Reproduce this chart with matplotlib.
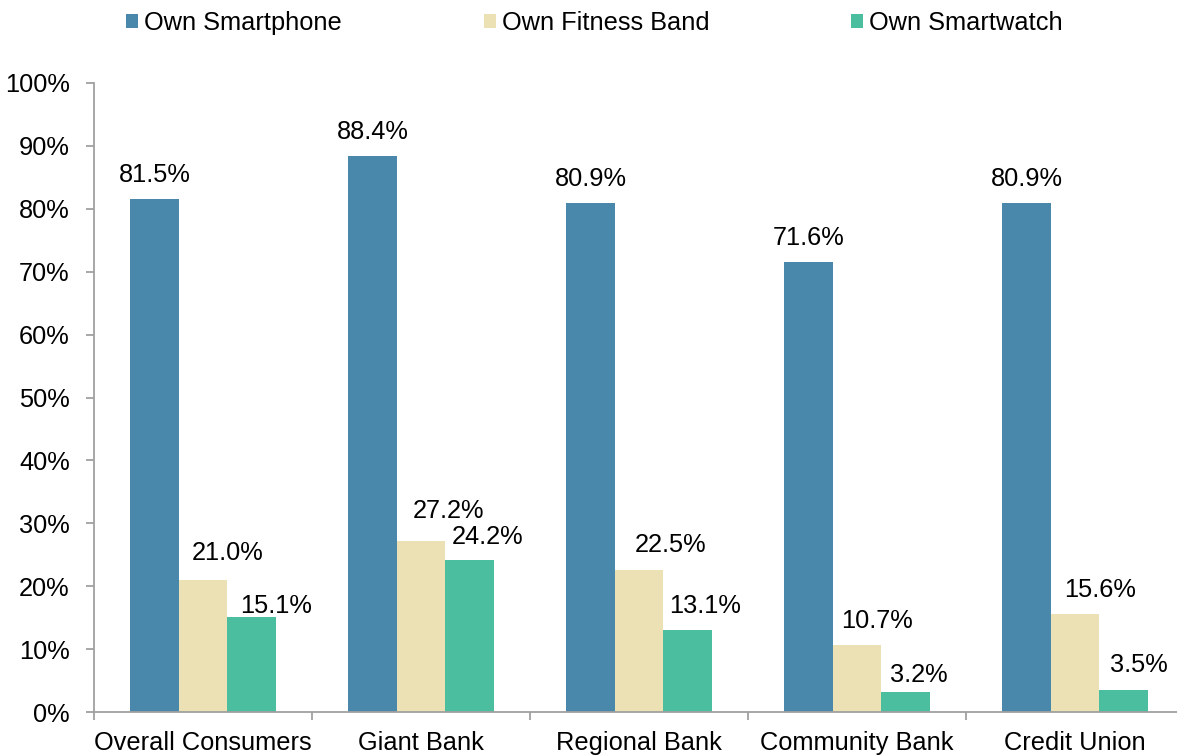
import matplotlib
matplotlib.use("Agg")
import matplotlib.pyplot as plt
import numpy as np

# Device ownership by primary financial institution type
categories = ["Overall Consumers", "Giant Bank", "Regional Bank", "Community Bank", "Credit Union"]
series_names = ["Own Smartphone", "Own Fitness Band", "Own Smartwatch"]
smartphone = [81.5, 88.4, 80.9, 71.6, 80.9]
fitness_band = [21.0, 27.2, 22.5, 10.7, 15.6]
smartwatch = [15.1, 24.2, 13.1, 3.2, 3.5]

colors = ["#4a88ab", "#ebe1b4", "#4cbea0"]

# label nudges in pixels (dx, dy above bar top)
label_dx = [[0, 0, 0, 0, 0],
            [25, 27, 32, 20, 25],
            [25, 18, 18, 13, 15]]
label_dy = [[17, 17, 17, 17, 17],
            [20, 23, 18, 17, 17],
            [4, 16, 17, 10, 18]]

plt.rcParams['font.family'] = ['Liberation Sans', 'DejaVu Sans']
FS = 18.3

fig = plt.figure(figsize=(11.77, 7.55), dpi=100)
ax = fig.add_axes([94 / 1177, 43 / 755, 1090 / 1177, 629 / 755])

x = np.arange(len(categories))
width = 0.222
handles = []
for i, vals in enumerate([smartphone, fitness_band, smartwatch]):
    pos = x + (i - 1) * width
    bars = ax.bar(pos, np.array(vals) / 100, width, color=colors[i],
                  label=series_names[i], zorder=2)
    handles.append(bars)
    for j, (p, v) in enumerate(zip(pos, vals)):
        ax.annotate(f"{v:.1f}%", (p, v / 100),
                    xytext=(label_dx[i][j], label_dy[i][j]),
                    textcoords="offset pixels", ha="center", va="baseline",
                    fontsize=FS, color="black")

ax.set_xlim(-0.5, len(categories) - 0.5)
ax.set_ylim(0, 1)
ax.set_yticks(np.arange(0, 1.01, 0.1))
ax.set_yticklabels([f"{int(round(t * 100))}%" for t in np.arange(0, 1.01, 0.1)])

ax.set_xticks(np.arange(-0.5, len(categories)), minor=False)
ax.set_xticklabels([])
ax.set_xticks(x, minor=True)
ax.set_xticklabels(categories, minor=True)
ax.tick_params(axis="x", which="major", length=6, width=1.3, color="#a0a0a0", direction="out")
ax.tick_params(axis="x", which="minor", length=0, pad=14, labelsize=FS)
ax.tick_params(axis="y", length=6, width=1.3, color="#a0a0a0", direction="out", pad=11.5, labelsize=FS)

for side in ["top", "right"]:
    ax.spines[side].set_visible(False)
for side in ["left", "bottom"]:
    ax.spines[side].set_color("#a0a0a0")
    ax.spines[side].set_linewidth(1.3)

fig.legend(handles=handles, loc="center left", bbox_to_anchor=(126 / 1177, 1 - 23 / 755),
           ncol=3, frameon=False, fontsize=FS, handlelength=0.47, handleheight=0.47,
           handletextpad=0.25, columnspacing=5.57, borderpad=0, borderaxespad=0)

fig.savefig("out.png", dpi=100)
